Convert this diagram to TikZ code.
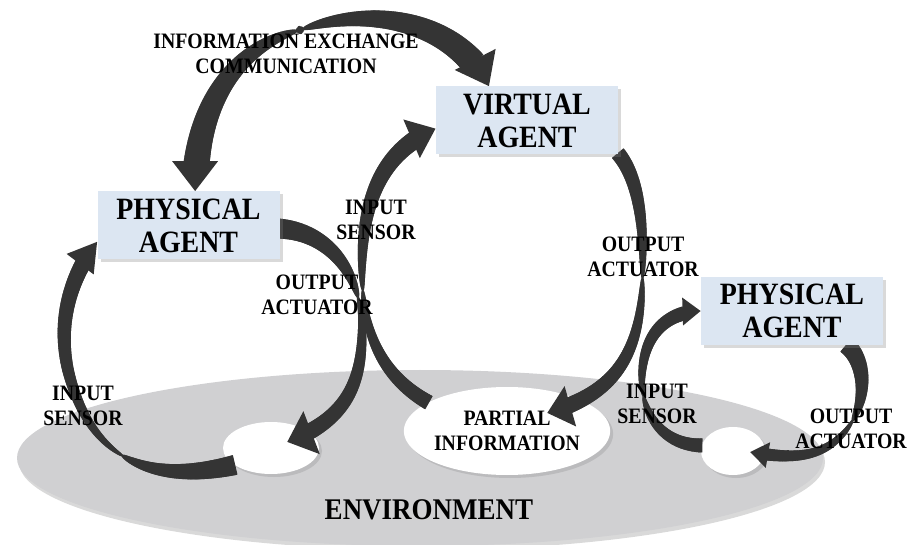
\documentclass[tikz,border=0pt]{standalone}
\usepackage{fontspec}
\setmainfont{Liberation Serif}[FakeStretch=0.9]
\usetikzlibrary{shapes.geometric,shadows,decorations.markings}

\definecolor{agentblue}{RGB}{220,230,242}
\definecolor{ribbongray}{RGB}{52,52,52}
\definecolor{envgray}{RGB}{208,208,210}

\pgfdeclarelayer{back}
\pgfdeclarelayer{mid}
\pgfsetlayers{back,mid,main}

\tikzset{
  agent/.style={rectangle, fill=agentblue, inner sep=0pt, minimum width=182pt, minimum height=68pt,
    align=center, font=\fontsize{31}{33}\selectfont\bfseries,
    drop shadow={shadow xshift=3pt, shadow yshift=-3pt, opacity=.3}},
  spot/.style={ellipse, fill=white, inner sep=0pt,
    drop shadow={shadow xshift=3pt, shadow yshift=-3pt, opacity=.25}},
  tag/.style={align=center, inner sep=0pt, font=\fontsize{22}{25}\selectfont\bfseries},
  % start width, twist position, end width, head half width, head length
  flowribbon/.style n args={5}{
    postaction={decorate, decoration={markings,
      mark=between positions 0 and 1 step 0.8pt with {
        \pgfmathsetmacro\rbD{(\pgfkeysvalueof{/pgf/decoration/mark info/sequence number}-1)*0.8}
        \pgfmathsetmacro\rbT{\rbD/(\pgfdecoratedpathlength-#5)}
        \pgfmathsetmacro\rbA{max(0,1-\rbT/#2)}
        \pgfmathsetmacro\rbB{max(0,(\rbT-#2)/(1-#2))}
        \pgfmathsetmacro\rbR{(\rbD>\pgfdecoratedpathlength-#5+1) ? 0 : (0.6+(#1/2-0.6)*sqrt(\rbA)+(#3/2-0.6)*sqrt(\rbB))}
        \draw[ribbongray, line width=1.6pt] (0pt,-\rbR pt) -- (0pt,\rbR pt);}
    }},
    postaction={decorate, decoration={markings,
      mark=at position 0.999 with {
        \fill[ribbongray] (0pt,0pt) -- (-#5pt,#4pt) -- (-#5pt,-#4pt) -- cycle;}
    }}
  }
}

\begin{document}
\begin{tikzpicture}[x=1pt,y=-1pt]
\useasboundingbox (0,0) rectangle (911,545);

% agents
\node[agent] (physL) at (188.5,225.5) {PHYSICAL\\AGENT};
\node[agent] (virt) at (527,120.5) {VIRTUAL\\AGENT};
\node[agent] (physR) at (792,311) {PHYSICAL\\AGENT};

% environment
\begin{pgfonlayer}{back}
\node[ellipse, fill=envgray, inner sep=0pt, minimum width=806pt, minimum height=176pt,
  drop shadow={shadow xshift=2pt, shadow yshift=-4pt, opacity=.3}] (env) at (420,458) {};
\node[spot, minimum width=96pt, minimum height=52pt] (spotL) at (271,448) {};
\node[spot, tag, minimum width=190pt, minimum height=88pt] (partial) at (507,431) {PARTIAL\\INFORMATION};
\node[spot, minimum width=64pt, minimum height=48pt] (spotR) at (733,451) {};
\end{pgfonlayer}

\coordinate (twist) at (300,30);
\coordinate (tipL) at (287,442);
\coordinate (tipM) at (547,413);
\coordinate (tipR) at (750,452);

% ribbons
\begin{pgfonlayer}{mid}
\path[flowribbon={8}{0.02}{26}{23}{30}] (twist) .. controls (370,5) and (455,20) .. (virt.138);
\path[flowribbon={8}{0.02}{26}{23}{30}] (twist) .. controls (240,45) and (195,100) .. (physL.79);
\path[flowribbon={20}{0.42}{16}{23}{26}] (physL.-2) .. controls (330,232) and (362,275) .. (362,330)
  .. controls (362,385) and (345,420) .. (tipL);
\path[flowribbon={20}{0.35}{16}{17}{28}] (spotL.205) .. controls (150,485) and (90,460) .. (68,370)
  .. controls (58,325) and (68,280) .. (physL.190);
\path[flowribbon={15}{0.45}{18}{21}{26}] (partial.160) .. controls (380,375) and (362,330) .. (362,270)
  .. controls (362,195) and (385,150) .. (virt.185);
\path[flowribbon={15}{0.45}{16}{21}{24}] (virt.-20) .. controls (640,180) and (645,230) .. (642,290)
  .. controls (638,360) and (610,395) .. (tipM);
\path[flowribbon={14}{0.45}{14}{14}{18}] (spotR.170) .. controls (660,445) and (640,410) .. (642,375)
  .. controls (644,335) and (665,312) .. (physR.west);
\path[flowribbon={18}{0.45}{12}{13}{18}] (physR.-32) .. controls (870,365) and (868,420) .. (830,445)
  .. controls (810,458) and (785,458) .. (tipR);
\end{pgfonlayer}

% labels
\node[tag] (comm) at (286,54) {INFORMATION EXCHANGE\\COMMUNICATION};
\node[tag] (outL) at (317,295) {OUTPUT\\ACTUATOR};
\node[tag] (inL) at (83,406) {INPUT\\SENSOR};
\node[tag] (inM) at (376,220) {INPUT\\SENSOR};
\node[tag] (outM) at (643,257) {OUTPUT\\ACTUATOR};
\node[tag] (inR) at (657,404) {INPUT\\SENSOR};
\node[tag] (outR) at (851,429) {OUTPUT\\ACTUATOR};
\node[inner sep=0pt, font=\fontsize{30}{36}\selectfont\bfseries] (envtext) at (429,510) {ENVIRONMENT};
\end{tikzpicture}
\end{document}
